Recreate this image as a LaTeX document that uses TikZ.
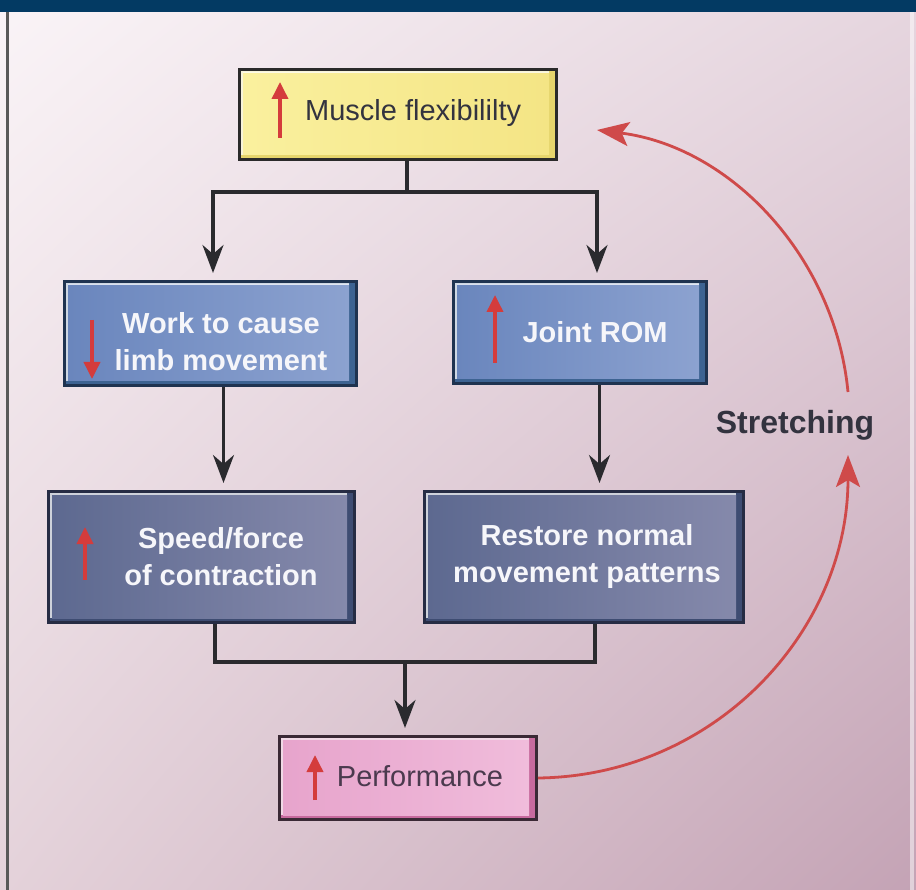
\documentclass[tikz,border=0pt]{standalone}
\usepackage{fontspec}
\setmainfont{Liberation Sans}
\usetikzlibrary{arrows.meta,shadings}

\definecolor{navyband}{HTML}{033A63}
\definecolor{bgTL}{HTML}{FAF4F7}
\definecolor{bgTR}{HTML}{E6D6DF}
\definecolor{bgBL}{HTML}{E4D2DA}
\definecolor{bgBR}{HTML}{C4A3B5}
\definecolor{inkdark}{HTML}{33333F}
\definecolor{inkwhite}{HTML}{F6F6FA}
\definecolor{inkperf}{HTML}{4B3A4E}
\definecolor{upred}{HTML}{D43C3C}
\definecolor{arcred}{HTML}{CF4A4A}
\definecolor{linkgray}{HTML}{2A2A2E}
% box palettes
\definecolor{ylwBorder}{HTML}{2A2A2A}
\definecolor{ylwEdge}{HTML}{E6D56C}
\definecolor{ylwL}{HTML}{FAF09E}
\definecolor{ylwR}{HTML}{F4E585}
\definecolor{bluBorder}{HTML}{1F3350}
\definecolor{bluEdge}{HTML}{3D6392}
\definecolor{bluL}{HTML}{6A86BD}
\definecolor{bluR}{HTML}{8CA2D0}
\definecolor{slBorder}{HTML}{262C44}
\definecolor{slEdge}{HTML}{3E4C72}
\definecolor{slL}{HTML}{5D6990}
\definecolor{slR}{HTML}{8589AB}
\definecolor{pkBorder}{HTML}{3A2935}
\definecolor{pkEdge}{HTML}{C76A9E}
\definecolor{pkL}{HTML}{E7A4CC}
\definecolor{pkR}{HTML}{F0BCDB}

% A bevelled box: name, x, y (top left), width, height, border, edge, left fill, right fill
\newcommand{\bevelpanel}[9]{%
  \node[draw=#6, line width=3pt, fill=#7, minimum width=#4pt, minimum height=#5pt,
        inner sep=0pt, anchor=north west] (#1) at (#2,#3) {};
  \shade[left color=#8, right color=#9]
    ([xshift=5pt,yshift=-5pt]#1.north west) rectangle ([xshift=-9pt,yshift=6pt]#1.south east);
  \draw[white, opacity=.75, line width=2.5pt]
    ([xshift=4pt,yshift=6pt]#1.south west) -- ([xshift=4pt,yshift=-4pt]#1.north west)
    -- ([xshift=-9pt,yshift=-4pt]#1.north east);
}

\tikzset{
  link/.style={draw=linkgray, line width=3.2pt},
  linkarrow/.style={link, -{Stealth[length=28pt,width=21pt,inset=9pt]}, shorten >=7pt},
  uparrow/.style={draw=upred, line width=3.6pt, -{Triangle[length=17pt,width=16pt]}},
  arcarrow/.style={draw=arcred, line width=2.8pt, -{Stealth[length=32pt,width=24pt,inset=7pt]}},
  plaintext/.style={font=\fontsize{29}{37}\selectfont, text=inkdark, inner sep=0pt},
  boldtext/.style={font=\fontsize{29}{37}\selectfont\bfseries, text=inkwhite, align=center, inner sep=0pt}
}

\begin{document}
\begin{tikzpicture}[x=1pt,y=-1pt]
\useasboundingbox (0,0) rectangle (916,890);

% backdrop
\shade[upper left=bgTL, upper right=bgTR, lower left=bgBL, lower right=bgBR] (0,0) rectangle (916,890);
\fill[navyband] (0,0) rectangle (916,12);
\draw[gray!70!black, line width=3pt] (7,12) -- (7,890);
\draw[white, opacity=.5, line width=4pt] (912,12) -- (912,890);

% boxes
\bevelpanel{muscle}{238}{68}{317}{90}{ylwBorder}{ylwEdge}{ylwL}{ylwR}
\bevelpanel{work}{63}{280}{292}{104}{bluBorder}{bluEdge}{bluL}{bluR}
\bevelpanel{rom}{452}{280}{253}{102}{bluBorder}{bluEdge}{bluL}{bluR}
\bevelpanel{speed}{47}{490}{306}{131}{slBorder}{slEdge}{slL}{slR}
\bevelpanel{restore}{423}{490}{319}{131}{slBorder}{slEdge}{slL}{slR}
\bevelpanel{perf}{278}{735}{257}{83}{pkBorder}{pkEdge}{pkL}{pkR}

% labels
\node[plaintext, anchor=west] (tmuscle) at (305,113) {Muscle flexibililty};
\node[boldtext] (twork) at (221,342) {Work to cause\\limb movement};
\node[boldtext] (trom) at (595,332) {Joint ROM};
\node[boldtext] (tspeed) at (221,557) {Speed/force\\of contraction};
\node[boldtext] (trestore) at (587,557) {Restore normal\\movement patterns};
\node[plaintext, text=inkperf] (tperf) at (420,776) {Performance};
\node[font=\fontsize{32}{37}\selectfont\bfseries, text=inkdark, inner sep=0pt] (tstretch) at (795,425) {Stretching};

% up / down markers inside the boxes
\draw[uparrow] (280,138) -- (280,82);
\draw[uparrow] (92,320) -- (92,379);
\draw[uparrow] (495,363) -- (495,295);
\draw[uparrow] (85,580) -- (85,527);
\draw[uparrow] (315,800) -- (315,755);

% split below the first box
\coordinate (splitTop) at (407,192);
\coordinate (busL) at (213,192);
\coordinate (busR) at (597,192);
\draw[link] (muscle.south -| splitTop) -- (splitTop);
\draw[link, line cap=rect] (busL) -- (busR);
\draw[linkarrow] (busL) -- (busL |- work.north);
\draw[linkarrow] (busR) -- (busR |- rom.north);

% straight drops
\draw[linkarrow] ([xshift=13pt]work.south) -- ([xshift=13pt]work.south |- speed.north);
\draw[linkarrow] ([xshift=19.5pt]rom.south) -- ([xshift=19.5pt]rom.south |- restore.north);

% merge above the last box
\coordinate (mergeL) at (215,662);
\coordinate (mergeR) at (595,662);
\coordinate (mergeC) at (405,662);
\draw[link] (speed.south -| mergeL) -- (mergeL) -- (mergeR) -- (restore.south -| mergeR);
\draw[linkarrow] (mergeC) -- (mergeC |- perf.north);

% stretching feedback loop
\coordinate (loopLow) at (848,455);
\coordinate (loopHigh) at (848,392);
\coordinate (loopTip) at (597,130);
\draw[arcarrow] (perf.east) .. controls (714,776) and (848,632) .. (loopLow);
\draw[arcarrow] (loopHigh) .. controls (835,257) and (731,147) .. (loopTip);
\end{tikzpicture}
\end{document}
